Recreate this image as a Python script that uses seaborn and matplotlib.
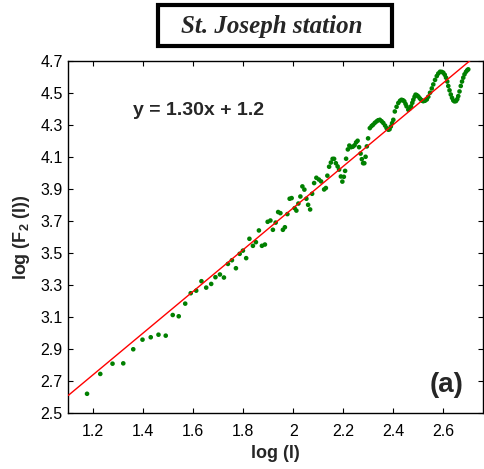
import numpy as np
import pandas as pd
import matplotlib
matplotlib.use("Agg")
import matplotlib.pyplot as plt
from matplotlib.patches import Rectangle
import seaborn as sns

# ---- data ----
log_l = [1.175, 1.228, 1.277, 1.320, 1.360, 1.397, 1.430, 1.461, 1.490, 1.518,
         1.542, 1.568, 1.590, 1.612, 1.633, 1.652, 1.672, 1.689, 1.707, 1.723,
         1.739, 1.755, 1.771, 1.786, 1.799, 1.812, 1.825, 1.839, 1.851, 1.863,
         1.875, 1.887, 1.898, 1.909, 1.919, 1.930, 1.940, 1.949, 1.959, 1.967,
         1.977, 1.986, 1.994, 2.006, 2.013, 2.021, 2.029, 2.037, 2.045, 2.053,
         2.060, 2.068, 2.076, 2.084, 2.093, 2.103, 2.112, 2.124, 2.131, 2.137,
         2.144, 2.151, 2.158, 2.164, 2.171, 2.178, 2.184, 2.191, 2.197, 2.203,
         2.208, 2.212, 2.219, 2.225, 2.232, 2.239, 2.246, 2.252, 2.258, 2.264,
         2.270, 2.275, 2.280, 2.285, 2.290, 2.295, 2.300, 2.307, 2.314, 2.320,
         2.327, 2.334, 2.340, 2.347, 2.354, 2.361, 2.368, 2.374, 2.381, 2.386,
         2.391, 2.396, 2.401, 2.407, 2.414, 2.421, 2.428, 2.434, 2.440, 2.445,
         2.450, 2.454, 2.461, 2.466, 2.472, 2.477, 2.481, 2.486, 2.490, 2.495,
         2.501, 2.507, 2.512, 2.517, 2.521, 2.528, 2.535, 2.541, 2.548, 2.555,
         2.561, 2.568, 2.575, 2.581, 2.588, 2.595, 2.601, 2.607, 2.612, 2.617,
         2.621, 2.626, 2.631, 2.636, 2.641, 2.646, 2.652, 2.657, 2.661, 2.666,
         2.671, 2.676, 2.681, 2.686, 2.692, 2.697, 2.701]
log_f2 = [2.620, 2.744, 2.808, 2.810, 2.898, 2.958, 2.973, 2.989, 2.983, 3.112,
          3.104, 3.183, 3.248, 3.264, 3.323, 3.283, 3.306, 3.348, 3.365, 3.346,
          3.431, 3.454, 3.404, 3.494, 3.514, 3.467, 3.588, 3.544, 3.567, 3.640,
          3.544, 3.552, 3.694, 3.702, 3.644, 3.689, 3.755, 3.748, 3.644, 3.660,
          3.742, 3.838, 3.842, 3.779, 3.764, 3.808, 3.852, 3.915, 3.895, 3.838,
          3.800, 3.771, 3.869, 3.936, 3.969, 3.958, 3.946, 3.896, 3.905, 3.982,
          4.038, 4.064, 4.087, 4.087, 4.060, 4.040, 4.020, 3.977, 3.945, 3.975,
          4.012, 4.088, 4.146, 4.170, 4.160, 4.163, 4.172, 4.190, 4.200, 4.160,
          4.120, 4.085, 4.060, 4.060, 4.100, 4.165, 4.215, 4.279, 4.292, 4.300,
          4.312, 4.321, 4.328, 4.331, 4.322, 4.311, 4.295, 4.279, 4.269, 4.272,
          4.289, 4.310, 4.331, 4.383, 4.412, 4.436, 4.450, 4.456, 4.453, 4.446,
          4.430, 4.415, 4.394, 4.400, 4.415, 4.437, 4.456, 4.475, 4.488, 4.485,
          4.477, 4.465, 4.456, 4.450, 4.447, 4.450, 4.458, 4.475, 4.500, 4.527,
          4.552, 4.580, 4.604, 4.620, 4.631, 4.630, 4.625, 4.612, 4.594, 4.570,
          4.542, 4.515, 4.489, 4.468, 4.452, 4.446, 4.448, 4.460, 4.479, 4.508,
          4.542, 4.570, 4.594, 4.615, 4.631, 4.641, 4.646]

fit_slope = 1.30
fit_intercept = 1.18
x_ticks = [1.2, 1.4, 1.6, 1.8, 2.0, 2.2, 2.4, 2.6]
x_ticklabels = ["1.2", "1.4", "1.6", "1.8", "2", "2.2", "2.4", "2.6"]
y_ticks = [2.5, 2.7, 2.9, 3.1, 3.3, 3.5, 3.7, 3.9, 4.1, 4.3, 4.5, 4.7]
y_ticklabels = ["2.5", "2.7", "2.9", "3.1", "3.3", "3.5", "3.7", "3.9", "4.1", "4.3", "4.5", "4.7"]
x_limits = (1.1, 2.76)
y_limits = (2.5, 4.7)

sns.set_style("ticks")
plt.rcParams["font.family"] = ["Liberation Sans", "DejaVu Sans"]
plt.rcParams["mathtext.fontset"] = "custom"
plt.rcParams["mathtext.bf"] = "Liberation Sans:bold"
plt.rcParams["mathtext.rm"] = "Liberation Sans:bold"

W, H = 484, 469
fig = plt.figure(figsize=(W / 100, H / 100), dpi=100)
ax = fig.add_axes([68.3 / W, 1 - 413 / H, (483 - 68.3) / W, (413 - 60.7) / H])

df = pd.DataFrame({"x": log_l, "y": log_f2})
sns.scatterplot(data=df, x="x", y="y", ax=ax, color="#008000", s=11,
                edgecolor="none", linewidth=0, zorder=3)

fit_x = np.array(x_limits)
fit_df = pd.DataFrame({"x": fit_x, "y": fit_slope * fit_x + fit_intercept})
sns.lineplot(data=fit_df, x="x", y="y", ax=ax, color="red", linewidth=1.0, zorder=4)

ax.set_xlim(*x_limits)
ax.set_ylim(*y_limits)
ax.set_xticks(x_ticks)
ax.set_xticklabels(x_ticklabels)
ax.set_yticks(y_ticks)
ax.set_yticklabels(y_ticklabels)
ax.tick_params(direction="in", length=3.5, width=0.8, top=True, right=True,
               labelsize=11.5, colors="black")
ax.tick_params(axis="x", pad=8)
ax.tick_params(axis="y", pad=4)
for s in ax.spines.values():
    s.set_visible(True)
    s.set_linewidth(1.0)
    s.set_color("black")

ax.set_xlabel("log (l)", fontsize=13, fontweight="bold", labelpad=4)
ax.set_ylabel(r"log (F$_\mathbf{2}$ (l))", fontsize=13, fontweight="bold", labelpad=6)

ax.text(0.313, 0.86, "y = 1.30x + 1.2", transform=ax.transAxes, fontsize=14,
        fontweight="bold", ha="center", va="center")
ax.text(0.913, 0.079, "(a)", transform=ax.transAxes, fontsize=20,
        fontweight="bold", ha="center", va="center")

# title box
fig.patches.append(Rectangle((158 / W, 1 - 46.5 / H), (392 - 158) / W, (46.5 - 5.5) / H,
                             transform=fig.transFigure, fill=False,
                             edgecolor="black", linewidth=3))
fig.text(272 / W, 1 - 27 / H, "St. Joseph station", fontsize=18,
         fontweight="bold", fontstyle="italic",
         family=["Liberation Serif", "DejaVu Serif"], ha="center", va="center")

fig.savefig("out.png", dpi=100)
